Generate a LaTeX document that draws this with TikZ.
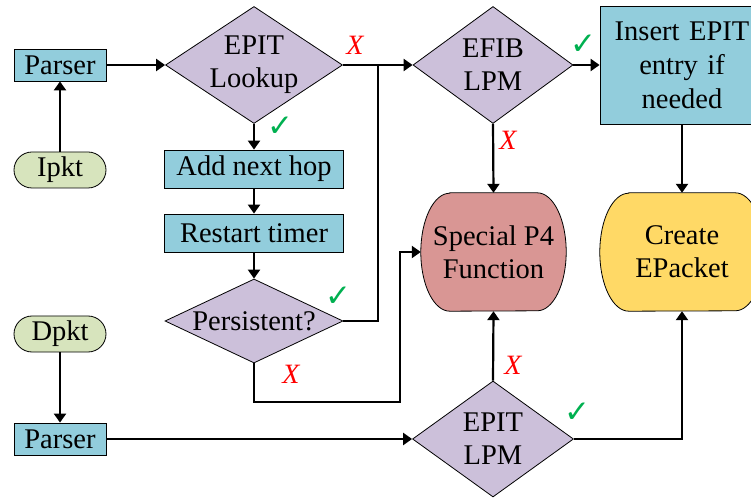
\documentclass[tikz,border=0pt]{standalone}
\usepackage{fontspec}
\setmainfont{Liberation Serif}
\newfontfamily\symfont{DejaVu Sans}
\usetikzlibrary{shapes.geometric,arrows.meta,backgrounds}
\definecolor{procblue}{HTML}{92CDDC}
\definecolor{decpurple}{HTML}{CCC0DA}
\definecolor{termgreen}{HTML}{D7E4BD}
\definecolor{specred}{HTML}{D99694}
\definecolor{outyellow}{HTML}{FFD966}
\definecolor{okgreen}{HTML}{00B050}
\begin{document}
\begin{tikzpicture}[x=1pt,y=1pt,
  font=\fontsize{28.5}{33}\selectfont,
  proc/.style={draw, line width=0.8pt, fill=procblue, inner sep=0pt, align=center},
  dec/.style={draw, line width=0.8pt, fill=decpurple, diamond, inner sep=0pt},
  term/.style={draw, line width=0.8pt, fill=termgreen, rounded corners=18pt,
    minimum width=92pt, minimum height=36pt, inner sep=0pt},
  blob/.style={minimum height=118pt, inner sep=0pt, align=center},
  lbl/.style={align=center, inner sep=0pt},
  conn/.style={line width=2.2pt},
  arr/.style={conn, -{Triangle[length=9pt,width=12pt]}},
  yes/.style={text=okgreen, inner sep=0pt, font=\symfont\fontsize{31}{31}\selectfont},
  no/.style={text=red, inner sep=0pt, font=\itshape\fontsize{28}{28}\selectfont},
]
\useasboundingbox (0,0) rectangle (751,498);

% ---- left column: packet sources and parsers
\node[term] (ipkt) at (60,328) {Ipkt};
\node[proc, minimum width=92pt, minimum height=32pt] (parserA) at (60,433) {Parser};
\node[term] (dpkt) at (60,164) {Dpkt};
\node[proc, minimum width=92pt, minimum height=32pt] (parserB) at (60,59) {Parser};

% ---- EPIT lookup branch
\node[dec, minimum width=177pt, minimum height=117pt] (epitlk) at (254,433) {};
\node[lbl] (epitlk-t) at (epitlk) {EPIT\\Lookup};
\node[proc, minimum width=179pt, minimum height=38pt] (addhop) at (254,329) {Add next hop};
\node[proc, minimum width=179pt, minimum height=38pt] (restart) at (254,265) {Restart timer};
\node[dec, minimum width=178pt, minimum height=84pt] (persist) at (254,177) {};
\node[lbl] (persist-t) at (persist) {Persistent?};

% ---- EFIB / EPIT LPM
\node[dec, minimum width=160pt, minimum height=117pt] (efib) at (493,433) {};
\node[lbl] (efib-t) at (efib) {EFIB\\LPM};
\node[dec, minimum width=161pt, minimum height=116pt] (epitlpm) at (493,59) {};
\node[lbl] (epitlpm-t) at (epitlpm) {EPIT\\LPM};

% ---- right column
\node[proc, minimum width=164pt, minimum height=118pt, text width=150pt,
      font=\fontsize{28.5}{34}\selectfont] (insert) at (682,433)
      {Insert EPIT\\entry if\\needed};
\node[blob, minimum width=145pt] (special) at (493.5,246) {Special P4\\Function};
\node[blob, minimum width=164pt] (create) at (682,246) {Create\\EPacket};

% terminator-like outlines with half-ellipse ends
\begin{scope}[on background layer]
  \draw[line width=0.8pt, fill=specred]
    ([xshift=29pt]special.north west) -- ([xshift=-29pt]special.north east)
    arc[start angle=90, end angle=-90, x radius=29pt, y radius=59pt]
    -- ([xshift=29pt]special.south west)
    arc[start angle=270, end angle=90, x radius=29pt, y radius=59pt] -- cycle;
  \draw[line width=0.8pt, fill=outyellow]
    ([xshift=29pt]create.north west) -- ([xshift=-29pt]create.north east)
    arc[start angle=90, end angle=-90, x radius=29pt, y radius=59pt]
    -- ([xshift=29pt]create.south west)
    arc[start angle=270, end angle=90, x radius=29pt, y radius=59pt] -- cycle;
\end{scope}

% ---- junction points
\coordinate (jup) at (378,433);
\coordinate (jlow) at (400,96);

% ---- connectors
\draw[arr] (ipkt.north) -- (parserA.south);
\draw[arr] (parserA.east) -- (epitlk.west);
\draw[arr] (epitlk.east) -- (efib.west);
\draw[arr] (epitlk.south) -- (addhop.north);
\draw[arr] (addhop.south) -- (restart.north);
\draw[arr] (restart.south) -- (persist.north);
\draw[conn] (persist.east) -| (jup);
\draw[arr] (persist.south) |- (jlow) |- (special.west);
\draw[arr] (efib.east) -- (insert.west);
\draw[arr] (efib.south) -- (special.north);
\draw[arr] (insert.south) -- (create.north);
\draw[arr] (dpkt.south) -- (parserB.north);
\draw[arr] (parserB.east) -- (epitlpm.west);
\draw[arr] (epitlpm.north) -- (special.south);
\draw[arr] (epitlpm.east) -| (create.south);

% ---- branch labels
\node[no]  (x1) at (355,453) {X};
\node[yes] (c1) at (280,371) {✓};
\node[yes] (c2) at (583,453) {✓};
\node[no]  (x2) at (508,358) {X};
\node[yes] (c3) at (338,201) {✓};
\node[no]  (x3) at (291,124) {X};
\node[no]  (x4) at (513,133) {X};
\node[yes] (c4) at (577,85) {✓};
\end{tikzpicture}
\end{document}
